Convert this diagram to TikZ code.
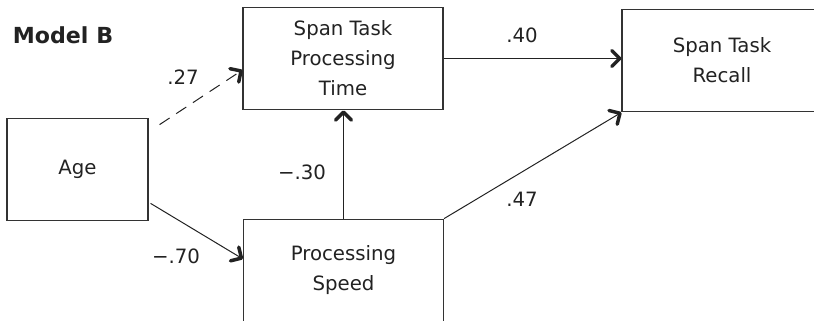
\documentclass[tikz,border=0pt]{standalone}
\usepackage{fontspec}
\setmainfont{DejaVu Sans}
\usetikzlibrary{arrows.meta}
\definecolor{ink}{HTML}{222222}
\definecolor{edge}{HTML}{333333}
\begin{document}
\begin{tikzpicture}[x=0.75pt,y=-0.75pt, font=\fontsize{14.8}{22.5}\selectfont, text=ink,
  box/.style={draw=edge,line width=0.8pt,minimum width=150pt,minimum height=77pt,inner sep=0pt,align=center},
  path/.style={draw=ink,line width=0.75pt,-{Straight Barb[length=6pt,width=12pt,line width=2.6pt,round]}},
  coef/.style={inner sep=0pt}]
\useasboundingbox (0,0) rectangle (814,321);
% variables
\node[font=\fontsize{16.6}{20}\selectfont\bfseries] (title) at (63,35) {Model B};
\node[box,minimum width=105.75pt] (age) at (77.5,169.5) {Age};
\node[box] (spt) at (343,58.5) {Span Task\\Processing\\Time};
\node[box] (ps) at (343.5,270.5) {Processing\\Speed};
\node[box] (rec) at (722,60.5) {Span Task\\Recall};
% paths, dashed = n.s.
\draw[path,dashed,dash pattern=on 9pt off 6pt] ([shift={(11,7)}]age.north east) -- ([shift={(0,11.5)}]spt.west);
\draw[path] ([shift={(2,-18)}]age.south east) -- ([shift={(0,-11.5)}]ps.west);
\draw[path] (ps.north) -- (ps.north |- spt.south);
\draw[path] (spt.east) -- (spt.east -| rec.west);
\draw[path] (ps.north east) -- (rec.south west);
% coefficients
\node[coef] (c1) at (183,77) {.27};
\node[coef] (c2) at (522,35) {.40};
\node[coef] (c3) at (302,172) {−.30};
\node[coef] (c4) at (176,256) {−.70};
\node[coef] (c5) at (522,199) {.47};
\end{tikzpicture}
\end{document}
